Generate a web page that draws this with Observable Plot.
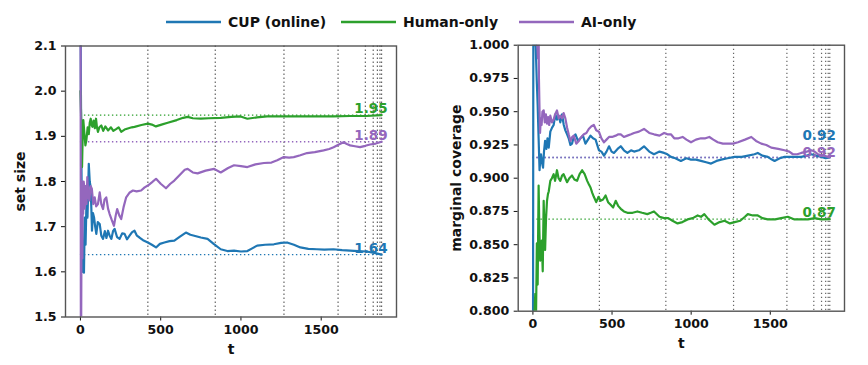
<!DOCTYPE html>
<html>
<head>
<meta charset="utf-8">
<script src="https://cdn.jsdelivr.net/npm/d3@7"></script>
<script src="https://cdn.jsdelivr.net/npm/@observablehq/plot@0.6"></script>
<style>
  html, body { margin: 0; padding: 0; background: white; }
  #wrap { position: relative; width: 868px; height: 365px; overflow: hidden; font-family: "DejaVu Sans", sans-serif; }
  .panel { position: absolute; top: 0; }
  .legend-item { position: absolute; top: 12px; height: 20px; display: flex; align-items: center; font-weight: bold; font-size: 14px; color: #111; z-index: 2; white-space: nowrap; }
  .legend-item svg { margin-right: 7px; }
</style>
</head>
<body>
<div id="wrap"></div>
<script>
// ---- series names / colours ----
const seriesNames = ["CUP (online)", "Human-only", "AI-only"];
const seriesColors = ["#1f77b4", "#2ca02c", "#9467bd"];

// ---- x axis ----
const xTicks = [0, 500, 1000, 1500];
const changePoints = [420, 840, 1268, 1605, 1775, 1824, 1850, 1866, 1876];

// ---- left panel: set size ----
const sizeTicks = [1.5, 1.6, 1.7, 1.8, 1.9, 2.0, 2.1];
const sizeFinal = [1.638, 1.947, 1.888];
const sizeCUP = [[0,2.25],[3,2.0],[6,1.85],[10,1.70],[14,1.60],[18,1.66],[22,1.598],[27,1.72],[32,1.66],[38,1.76],[44,1.72],[52,1.839],[58,1.80],[64,1.787],[68,1.74],[72,1.691],[78,1.73],[85,1.72],[92,1.70],[99,1.684],[108,1.71],[120,1.706],[130,1.68],[141,1.673],[152,1.69],[162,1.675],[172,1.691],[182,1.68],[193,1.673],[203,1.69],[213,1.695],[228,1.677],[244,1.673],[260,1.685],[275,1.684],[290,1.672],[306,1.68],[322,1.688],[337,1.691],[352,1.68],[368,1.676],[390,1.67],[420,1.665],[445,1.66],[471,1.654],[495,1.662],[523,1.665],[555,1.668],[585,1.669],[620,1.678],[657,1.687],[685,1.682],[709,1.68],[750,1.676],[792,1.673],[830,1.662],[874,1.65],[915,1.646],[957,1.647],[1000,1.645],[1040,1.646],[1070,1.652],[1101,1.658],[1150,1.66],[1205,1.661],[1250,1.664],[1287,1.665],[1330,1.66],[1370,1.654],[1420,1.651],[1473,1.65],[1520,1.649],[1576,1.65],[1630,1.648],[1680,1.647],[1730,1.646],[1782,1.645],[1830,1.642],[1876,1.638]];
const sizeHuman = [[0,2.0],[4,1.95],[7,1.88],[10,1.832],[14,1.90],[18,1.936],[25,1.905],[31,1.88],[37,1.891],[45,1.92],[52,1.905],[58,1.93],[64,1.939],[70,1.925],[75,1.921],[82,1.935],[90,1.918],[97,1.939],[103,1.92],[109,1.91],[118,1.92],[130,1.924],[142,1.912],[155,1.922],[172,1.913],[190,1.92],[205,1.912],[222,1.916],[238,1.92],[254,1.91],[275,1.915],[300,1.918],[320,1.92],[337,1.921],[380,1.925],[420,1.928],[445,1.926],[470,1.922],[505,1.926],[544,1.93],[600,1.936],[640,1.941],[668,1.943],[700,1.94],[750,1.939],[800,1.94],[874,1.941],[940,1.943],[998,1.944],[1040,1.939],[1100,1.942],[1163,1.944],[1250,1.944],[1370,1.944],[1470,1.944],[1576,1.944],[1680,1.945],[1782,1.945],[1876,1.947]];
const sizeAI = [[0,2.6],[3,1.3],[6,1.62],[9,1.80],[12,1.63],[15,1.78],[17,1.728],[20,1.80],[23,1.791],[26,1.74],[29,1.758],[33,1.79],[38,1.75],[43,1.81],[49,1.77],[56,1.758],[63,1.79],[71,1.784],[80,1.75],[89,1.765],[98,1.745],[109,1.75],[120,1.776],[130,1.75],[141,1.739],[150,1.76],[161,1.765],[172,1.74],[182,1.728],[195,1.715],[209,1.702],[220,1.725],[229,1.739],[242,1.725],[254,1.717],[270,1.745],[285,1.765],[305,1.775],[327,1.78],[350,1.778],[378,1.78],[400,1.787],[420,1.791],[445,1.798],[471,1.806],[500,1.795],[533,1.785],[560,1.795],[585,1.802],[620,1.815],[650,1.826],[668,1.828],[700,1.82],[730,1.818],[780,1.824],[833,1.828],[874,1.82],[920,1.83],[957,1.836],[1000,1.834],[1040,1.832],[1090,1.838],[1143,1.841],[1190,1.842],[1226,1.847],[1267,1.854],[1300,1.853],[1329,1.854],[1370,1.858],[1412,1.863],[1460,1.865],[1515,1.869],[1550,1.872],[1577,1.876],[1610,1.882],[1639,1.887],[1660,1.883],[1680,1.88],[1710,1.878],[1742,1.876],[1775,1.879],[1804,1.882],[1840,1.884],[1876,1.888]];

// ---- right panel: marginal coverage ----
const covTicks = [0.8, 0.825, 0.85, 0.875, 0.9, 0.925, 0.95, 0.975, 1.0];
const covFinal = [0.9156, 0.8692, 0.9156];
const covCUP = [[0,0.7],[3,1.05],[8,1.0],[14,1.02],[20,0.99],[25,0.971],[30,0.955],[36,0.93],[42,0.906],[47,0.915],[51,0.918],[57,0.912],[64,0.908],[70,0.92],[77,0.928],[85,0.922],[92,0.93],[100,0.923],[110,0.935],[121,0.938],[131,0.94],[142,0.948],[152,0.944],[163,0.947],[173,0.942],[184,0.948],[195,0.94],[205,0.936],[216,0.933],[226,0.93],[237,0.925],[247,0.926],[258,0.931],[269,0.933],[285,0.928],[300,0.93],[316,0.932],[332,0.926],[348,0.929],[364,0.932],[380,0.93],[396,0.929],[417,0.921],[433,0.92],[449,0.917],[465,0.92],[481,0.924],[497,0.92],[512,0.919],[535,0.922],[555,0.924],[575,0.921],[597,0.919],[620,0.921],[639,0.92],[670,0.921],[702,0.924],[735,0.92],[765,0.918],[800,0.92],[829,0.919],[850,0.918],[872,0.916],[900,0.915],[935,0.913],[970,0.915],[999,0.914],[1030,0.914],[1062,0.913],[1095,0.912],[1126,0.911],[1160,0.913],[1190,0.914],[1230,0.915],[1275,0.916],[1320,0.916],[1360,0.917],[1400,0.918],[1421,0.919],[1450,0.917],[1484,0.916],[1510,0.914],[1527,0.913],[1560,0.915],[1590,0.916],[1640,0.916],[1696,0.916],[1730,0.917],[1760,0.918],[1790,0.917],[1823,0.916],[1850,0.915],[1876,0.9156]];
const covHuman = [[0,0.7],[5,0.78],[10,0.80],[15,0.813],[20,0.80],[25,0.851],[30,0.82],[36,0.8945],[41,0.86],[46,0.838],[51,0.845],[56,0.853],[62,0.83],[68,0.883],[73,0.86],[77,0.846],[83,0.87],[89,0.883],[95,0.888],[100,0.89],[110,0.898],[120,0.9],[131,0.903],[140,0.898],[152,0.906],[162,0.9],[173,0.898],[184,0.902],[194,0.903],[205,0.9],[216,0.897],[230,0.9],[247,0.902],[262,0.899],[279,0.898],[295,0.903],[311,0.906],[327,0.903],[343,0.898],[355,0.895],[364,0.893],[375,0.889],[385,0.886],[400,0.882],[415,0.886],[427,0.883],[443,0.884],[459,0.887],[475,0.882],[491,0.88],[507,0.878],[523,0.883],[540,0.879],[555,0.877],[575,0.875],[597,0.874],[630,0.874],[660,0.875],[690,0.874],[723,0.873],[745,0.874],[765,0.875],[800,0.871],[829,0.87],[855,0.87],[882,0.868],[914,0.866],[945,0.867],[977,0.869],[1010,0.87],[1041,0.872],[1062,0.871],[1083,0.873],[1110,0.869],[1147,0.865],[1180,0.867],[1211,0.868],[1245,0.866],[1275,0.867],[1310,0.868],[1340,0.871],[1358,0.873],[1390,0.872],[1421,0.872],[1450,0.87],[1484,0.869],[1530,0.869],[1569,0.87],[1611,0.871],[1653,0.869],[1700,0.869],[1738,0.869],[1780,0.87],[1823,0.869],[1876,0.8692]];
const covAI = [[0,1.1],[20,1.05],[28,1.0],[32,0.99],[35,1.03],[38,0.975],[42,0.95],[45,0.934],[50,0.945],[55,0.94],[60,0.95],[68,0.951],[75,0.942],[82,0.948],[89,0.941],[96,0.946],[103,0.94],[110,0.947],[120,0.942],[131,0.944],[140,0.948],[152,0.951],[163,0.945],[173,0.947],[184,0.945],[194,0.949],[205,0.945],[216,0.938],[226,0.933],[237,0.928],[248,0.931],[258,0.932],[274,0.926],[290,0.928],[306,0.931],[322,0.933],[338,0.934],[353,0.937],[370,0.939],[385,0.94],[400,0.936],[417,0.935],[433,0.93],[449,0.927],[465,0.929],[481,0.931],[500,0.931],[523,0.932],[540,0.933],[555,0.933],[575,0.931],[597,0.932],[620,0.933],[639,0.934],[670,0.935],[702,0.937],[735,0.934],[765,0.933],[800,0.932],[829,0.934],[850,0.933],[872,0.933],[893,0.93],[920,0.93],[946,0.931],[970,0.929],[999,0.927],[1030,0.929],[1062,0.93],[1090,0.93],[1115,0.931],[1140,0.929],[1168,0.927],[1200,0.926],[1232,0.926],[1265,0.926],[1296,0.927],[1340,0.929],[1380,0.931],[1410,0.928],[1443,0.926],[1475,0.925],[1506,0.923],[1550,0.922],[1590,0.921],[1620,0.92],[1643,0.918],[1670,0.918],[1696,0.919],[1730,0.92],[1760,0.921],[1780,0.92],[1802,0.918],[1840,0.917],[1876,0.9156]];

// ---- build ----
const wrap = document.getElementById("wrap");
const xDomain = [-93, 1969];
const dotted = "1.4,2.6";

function panel(opts) {
  const rows = [];
  opts.series.forEach((arr, i) => arr.forEach(([t, v]) => rows.push({t, v, s: seriesNames[i]})));
  const lastT = d3.max(rows, d => d.t);
  const finals = opts.finals.map((v, i) => ({v, s: seriesNames[i], i}));
  const labelMarks = finals.map(f => Plot.text([f], {
    x: lastT, y: "v", text: d => d3.format(".2f")(d.v), fill: "s",
    textAnchor: "end", lineAnchor: "bottom", dx: 6, dy: opts.labelDy[f.i],
    fontSize: 13.5, fontWeight: "bold"
  }));
  return Plot.plot({
    width: opts.width, height: 365,
    marginTop: opts.mt, marginBottom: opts.mb, marginLeft: opts.ml, marginRight: opts.mr,
    style: {fontFamily: "DejaVu Sans", fontWeight: "bold", fontSize: "12.6px", background: "transparent", color: "#111", overflow: "visible"},
    x: {domain: xDomain, ticks: xTicks, tickFormat: d3.format("d"), label: null, tickSize: 4, tickPadding: 4},
    y: {domain: opts.yDomain, ticks: opts.yTicks, tickFormat: d3.format(opts.fmt), label: null, tickSize: 4, tickPadding: 4},
    color: {domain: seriesNames, range: seriesColors},
    marks: [
      Plot.ruleX(changePoints, {stroke: "#555", strokeOpacity: 0.9, strokeWidth: 1.2, strokeDasharray: dotted}),
      Plot.ruleY(finals, {y: "v", x1: 0, x2: lastT, stroke: "s", strokeWidth: 1.4, strokeDasharray: dotted}),
      Plot.line(rows, {x: "t", y: "v", z: "s", stroke: "s", strokeWidth: 2.2, clip: true}),
      ...labelMarks,
      Plot.axisX({ticks: xTicks, tickFormat: d3.format("d"), label: null, tickSize: 4, tickPadding: 4}),
      Plot.axisY({ticks: opts.yTicks, tickFormat: d3.format(opts.fmt), label: null, tickSize: 4, tickPadding: 5}),
      Plot.text([opts.ylabel], {frameAnchor: "left", rotate: -90, dx: opts.ylabelDx, textAnchor: "middle", lineAnchor: "middle", fontSize: 14, fontWeight: "bold", text: d => d}),
      Plot.text(["t"], {frameAnchor: "bottom", dy: opts.xlabelDy, textAnchor: "middle", lineAnchor: "middle", fontSize: 14, fontWeight: "bold", text: d => d}),
      Plot.frame({stroke: "#555", strokeWidth: 1.4})
    ]
  });
}

const left = panel({
  series: [sizeCUP, sizeHuman, sizeAI], finals: sizeFinal,
  yDomain: [1.5, 2.1], yTicks: sizeTicks, fmt: ".1f", ylabel: "set size",
  width: 434, mt: 45.5, mb: 48.5, ml: 65, mr: 38,
  ylabelDx: -45, xlabelDy: 32.5, labelDy: [-2, -2, -2]
});
left.classList.add("panel");
left.style.left = "0px";
wrap.appendChild(left);

const right = panel({
  series: [covCUP, covHuman, covAI], finals: covFinal,
  yDomain: [0.8, 1.0], yTicks: covTicks, fmt: ".3f", ylabel: "marginal coverage",
  width: 434, mt: 44.7, mb: 54.3, ml: 83.7, mr: 24,
  ylabelDx: -62, xlabelDy: 32.3, labelDy: [-17, -2, -0.5]
});
right.classList.add("panel");
right.style.left = "434px";
wrap.appendChild(right);

// legend
const legendLeft = [166, 341, 519];
seriesNames.forEach((name, i) => {
  const item = document.createElement("div");
  item.className = "legend-item";
  item.style.left = legendLeft[i] + "px";
  item.innerHTML = `<svg width="55" height="6"><line x1="0" x2="55" y1="3" y2="3" stroke="${seriesColors[i]}" stroke-width="2.5"/></svg><span>${name}</span>`;
  wrap.appendChild(item);
});
</script>
</body>
</html>
